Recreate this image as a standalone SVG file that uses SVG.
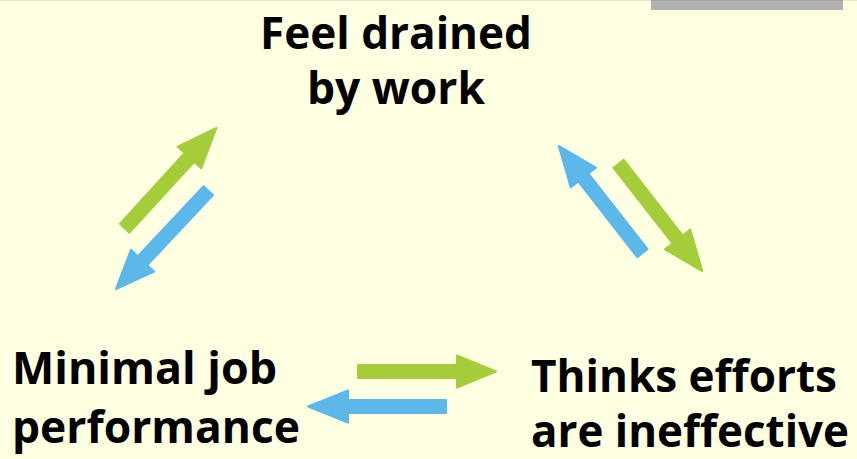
<svg xmlns="http://www.w3.org/2000/svg" width="857" height="459" viewBox="0 0 857 459">
<defs>
<style>
.t{font-family:"Open Sans","Liberation Sans",sans-serif;font-weight:bold;font-size:45px;fill:#000}
.g{fill:#A5CD39;stroke:#A5CD39}
.b{fill:#5BB8E9;stroke:#5BB8E9}
.g,.b{stroke-width:2;stroke-linejoin:round}
</style>
</defs>
<rect x="0" y="0" width="857" height="459" fill="#FFFFE1"/>
<rect x="0" y="0" width="857" height="1" fill="#E6E6D2"/>
<rect x="651" y="0" width="192" height="10" fill="#B1B1B1"/>
<rect x="651" y="0" width="192" height="1" fill="#A3A3A3"/>
<g id="connectors">
<path class="g" transform="translate(124,229) rotate(-47.6)" d="M1,-6.5 H97 V-16 L137,0 L97,16 V6.5 H1 Z"/>
<path class="b" transform="translate(209,190) rotate(133.2)" d="M1,-6.5 H97 V-16 L136,0 L97,16 V6.5 H1 Z"/>
<path class="b" transform="translate(643,254) rotate(-127.95)" d="M1,-6.5 H97 V-16 L137,0 L97,16 V6.5 H1 Z"/>
<path class="g" transform="translate(618,163) rotate(52.05)" d="M1,-6.5 H97 V-16 L137,0 L97,16 V6.5 H1 Z"/>
<path class="g" transform="translate(357,371.5)" d="M1,-6.5 H100 V-16 L139,0 L100,16 V6.5 H1 Z"/>
<path class="b" transform="translate(447,406.5) rotate(180)" d="M1,-6.5 H99 V-16 L139,0 L99,16 V6.5 H1 Z"/>
</g>
<g id="node-drained">
<text class="t" x="260" y="49" textLength="272" lengthAdjust="spacingAndGlyphs">Feel drained</text>
<text class="t" x="307" y="104" textLength="178" lengthAdjust="spacingAndGlyphs">by work</text>
</g>
<g id="node-performance">
<text class="t" x="12" y="384" textLength="265" lengthAdjust="spacingAndGlyphs">Minimal job</text>
<text class="t" x="12" y="443" textLength="288" lengthAdjust="spacingAndGlyphs">performance</text>
</g>
<g id="node-ineffective">
<text class="t" x="531" y="392" textLength="306" lengthAdjust="spacingAndGlyphs">Thinks efforts</text>
<text class="t" x="531" y="447" textLength="318" lengthAdjust="spacingAndGlyphs">are ineffective</text>
</g>
</svg>
